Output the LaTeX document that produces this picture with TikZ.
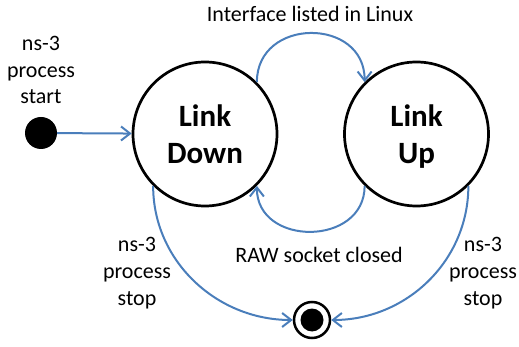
\documentclass[tikz,border=0pt]{standalone}
\usepackage{fontspec}
\setmainfont{Carlito}
\usetikzlibrary{positioning,arrows.meta}
\definecolor{linkblue}{RGB}{74,126,187}
\tikzset{state node/.style={circle,draw,line width=2.7pt,minimum size=144pt,inner sep=0pt,align=center,
            font=\fontsize{31}{37}\selectfont\bfseries},
         start node/.style={circle,fill=black,minimum size=32pt,inner sep=0pt},
         stop node/.style={circle,draw,line width=2.5pt,minimum size=36pt,inner sep=0pt},
         event/.style={align=center,font=\fontsize{22}{26.8}\selectfont},
         trans/.style={draw=linkblue,line width=2pt,-{Straight Barb[length=9pt,width=14pt]}},
            }

\begin{document}
\begin{tikzpicture}[x=1pt,y=-1pt]
    \useasboundingbox (0,0) rectangle (519,347);
    \node[state node] (down) at (205,134) {Link\\Down};
    \node[state node] (up) at (416.5,134) {Link\\\smash{Up}};
    \node[start node] (start) at (41,133) {};
    \node[stop node] (end) at (312,320) {};
    \node[circle,fill=black,minimum size=23pt,inner sep=0pt] (endcore) at (end) {};

    \node[event] (startlbl) at (41,70) {ns-3\\process\\start};
    \node[event] (uplbl) at (310,14) {Interface listed in Linux};
    \node[event] (downlbl) at (319,255) {RAW socket closed};
    \node[event] (stoplbl1) at (137,273) {ns-3\\process\\stop};
    \node[event] (stoplbl2) at (483,273) {ns-3\\process\\stop};

    \draw[trans] (start) -- (down);
    \draw[trans] (down.45) to[out=90,in=90,looseness=1.55] (up.135);
    \draw[trans] (up.225) to[out=-90,in=-90,looseness=1.45] (down.315);
    \draw[trans] (down.225) to[out=-90,in=180] (end.west);
    \draw[trans] (up.315) to[out=-90,in=0] (end.east);
\end{tikzpicture}
\end{document}
